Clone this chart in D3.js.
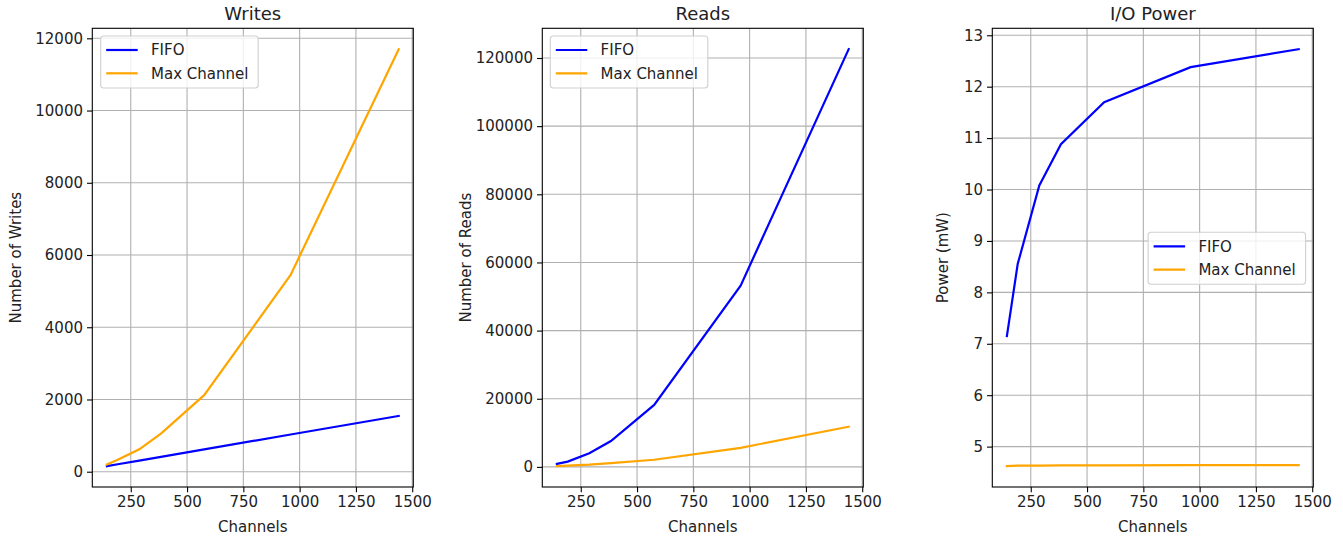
<!DOCTYPE html>
<html>
<head>
<meta charset="utf-8">
<script src="https://cdn.jsdelivr.net/npm/d3@7"></script>
<style>
  body { margin: 0; background: #fff; }
  text { font-family: "DejaVu Sans", sans-serif; fill: #222; }
</style>
</head>
<body>
<div id="plot"></div>
<script>
// Data
const channels = [144, 192, 288, 384, 576, 960, 1440];
const writesFifo = [154, 206, 309, 412, 618, 1030, 1545];
const writesMax = [200, 330, 620, 1055, 2120, 5450, 11700];
const readsFifo = [880, 1550, 4000, 7600, 18200, 53200, 122600];
const readsMax = [220, 350, 640, 1080, 2100, 5600, 11800];
const powerFifo = [7.15, 8.55, 10.08, 10.88, 11.7, 12.38, 12.73];
const powerMax = [4.62, 4.63, 4.63, 4.635, 4.635, 4.64, 4.64];

const xTicks = [250, 500, 750, 1000, 1250, 1500];
const writesTicks = [0, 2000, 4000, 6000, 8000, 10000, 12000];
const readsTicks = [0, 20000, 40000, 60000, 80000, 100000, 120000];
const powerTicks = [5, 6, 7, 8, 9, 10, 11, 12, 13];

const seriesNames = ["FIFO", "Max Channel"];
const seriesColors = ["#0000ff", "#ffa500"];

const panels = [
  { title: "Writes", ylabel: "Number of Writes", series: [writesFifo, writesMax], ticks: writesTicks,
    left: 92.3, legend: { x: 8.4, y: 7.7, anchor: "left" } },
  { title: "Reads", ylabel: "Number of Reads", series: [readsFifo, readsMax], ticks: readsTicks,
    left: 542.3, legend: { x: 8.0, y: 7.7, anchor: "left" } },
  { title: "I/O Power", ylabel: "Power (mW)", series: [powerFifo, powerMax], ticks: powerTicks,
    left: 992.3, legend: { x: 7.7, y: 204, anchor: "right" } }
];

const W = 1343, H = 539;
const plotTop = 28.3, plotBottom = 487, pw = 321;
const ph = plotBottom - plotTop;

const svg = d3.select("#plot").append("svg")
  .attr("width", W)
  .attr("height", H);

// matplotlib-style 5% margins around the data
function padded(min, max) {
  const m = (max - min) * 0.05;
  return [min - m, max + m];
}

const x = d3.scaleLinear()
  .domain(padded(d3.min(channels), d3.max(channels)))
  .range([0, pw]);

panels.forEach(p => {
  const all = p.series.flat();
  const y = d3.scaleLinear()
    .domain(padded(d3.min(all), d3.max(all)))
    .range([ph, 0]);

  const g = svg.append("g").attr("transform", `translate(${p.left},${plotTop})`);

  // grid
  g.append("g").selectAll("line").data(xTicks).join("line")
    .attr("x1", d => x(d)).attr("x2", d => x(d))
    .attr("y1", 0).attr("y2", ph)
    .attr("stroke", "#b0b0b0").attr("stroke-width", 1.1);
  g.append("g").selectAll("line").data(p.ticks).join("line")
    .attr("y1", d => y(d)).attr("y2", d => y(d))
    .attr("x1", 0).attr("x2", pw)
    .attr("stroke", "#b0b0b0").attr("stroke-width", 1.1);

  // lines
  const line = d3.line().x((d, i) => x(channels[i])).y(d => y(d));
  p.series.forEach((s, i) => {
    g.append("path")
      .datum(s)
      .attr("d", line)
      .attr("fill", "none")
      .attr("stroke", seriesColors[i])
      .attr("stroke-width", 2.2)
      .attr("stroke-linecap", "square");
  });

  // axes
  const xAxis = g.append("g")
    .attr("transform", `translate(0,${ph})`)
    .call(d3.axisBottom(x).tickValues(xTicks).tickFormat(d3.format("d")).tickSize(5.3).tickPadding(4));
  const yAxis = g.append("g")
    .call(d3.axisLeft(y).tickValues(p.ticks).tickFormat(d3.format("d")).tickSize(5.3).tickPadding(4));
  [xAxis, yAxis].forEach(a => {
    a.select(".domain").remove();
    a.selectAll(".tick line").attr("stroke", "#000").attr("stroke-width", 1.1);
    a.selectAll(".tick text").style("font-size", "15px").style("font-family", "DejaVu Sans");
  });

  // spines
  g.append("rect")
    .attr("width", pw).attr("height", ph)
    .attr("fill", "none").attr("stroke", "#000").attr("stroke-width", 1.1);

  // title and labels
  g.append("text")
    .attr("x", pw / 2).attr("y", -8.5)
    .attr("text-anchor", "middle")
    .style("font-size", "18px")
    .text(p.title);
  g.append("text")
    .attr("x", pw / 2).attr("y", ph + 45)
    .attr("text-anchor", "middle")
    .style("font-size", "15px")
    .text("Channels");
  const ylx = p.title === "I/O Power" ? -44.5 : -71.5;
  g.append("text")
    .attr("transform", `translate(${ylx},${ph / 2}) rotate(-90)`)
    .attr("text-anchor", "middle")
    .style("font-size", "15px")
    .text(p.ylabel);

  // legend
  const lw = 157.5, lh = 52;
  const lx = p.legend.anchor === "left" ? p.legend.x : pw - p.legend.x - lw;
  const lg = g.append("g").attr("transform", `translate(${lx},${p.legend.y})`);
  lg.append("rect")
    .attr("width", lw).attr("height", lh).attr("rx", 3)
    .attr("fill", "#fff").attr("fill-opacity", 0.8)
    .attr("stroke", "#d0d0d0").attr("stroke-width", 1.1);
  seriesNames.forEach((name, i) => {
    const yy = 14 + i * 23.3;
    lg.append("line")
      .attr("x1", 5.5).attr("x2", 37)
      .attr("y1", yy).attr("y2", yy)
      .attr("stroke", seriesColors[i]).attr("stroke-width", 2.2);
    lg.append("text")
      .attr("x", 50.3).attr("y", yy + 5.3)
      .style("font-size", "15px")
      .text(name);
  });
});
</script>
</body>
</html>
